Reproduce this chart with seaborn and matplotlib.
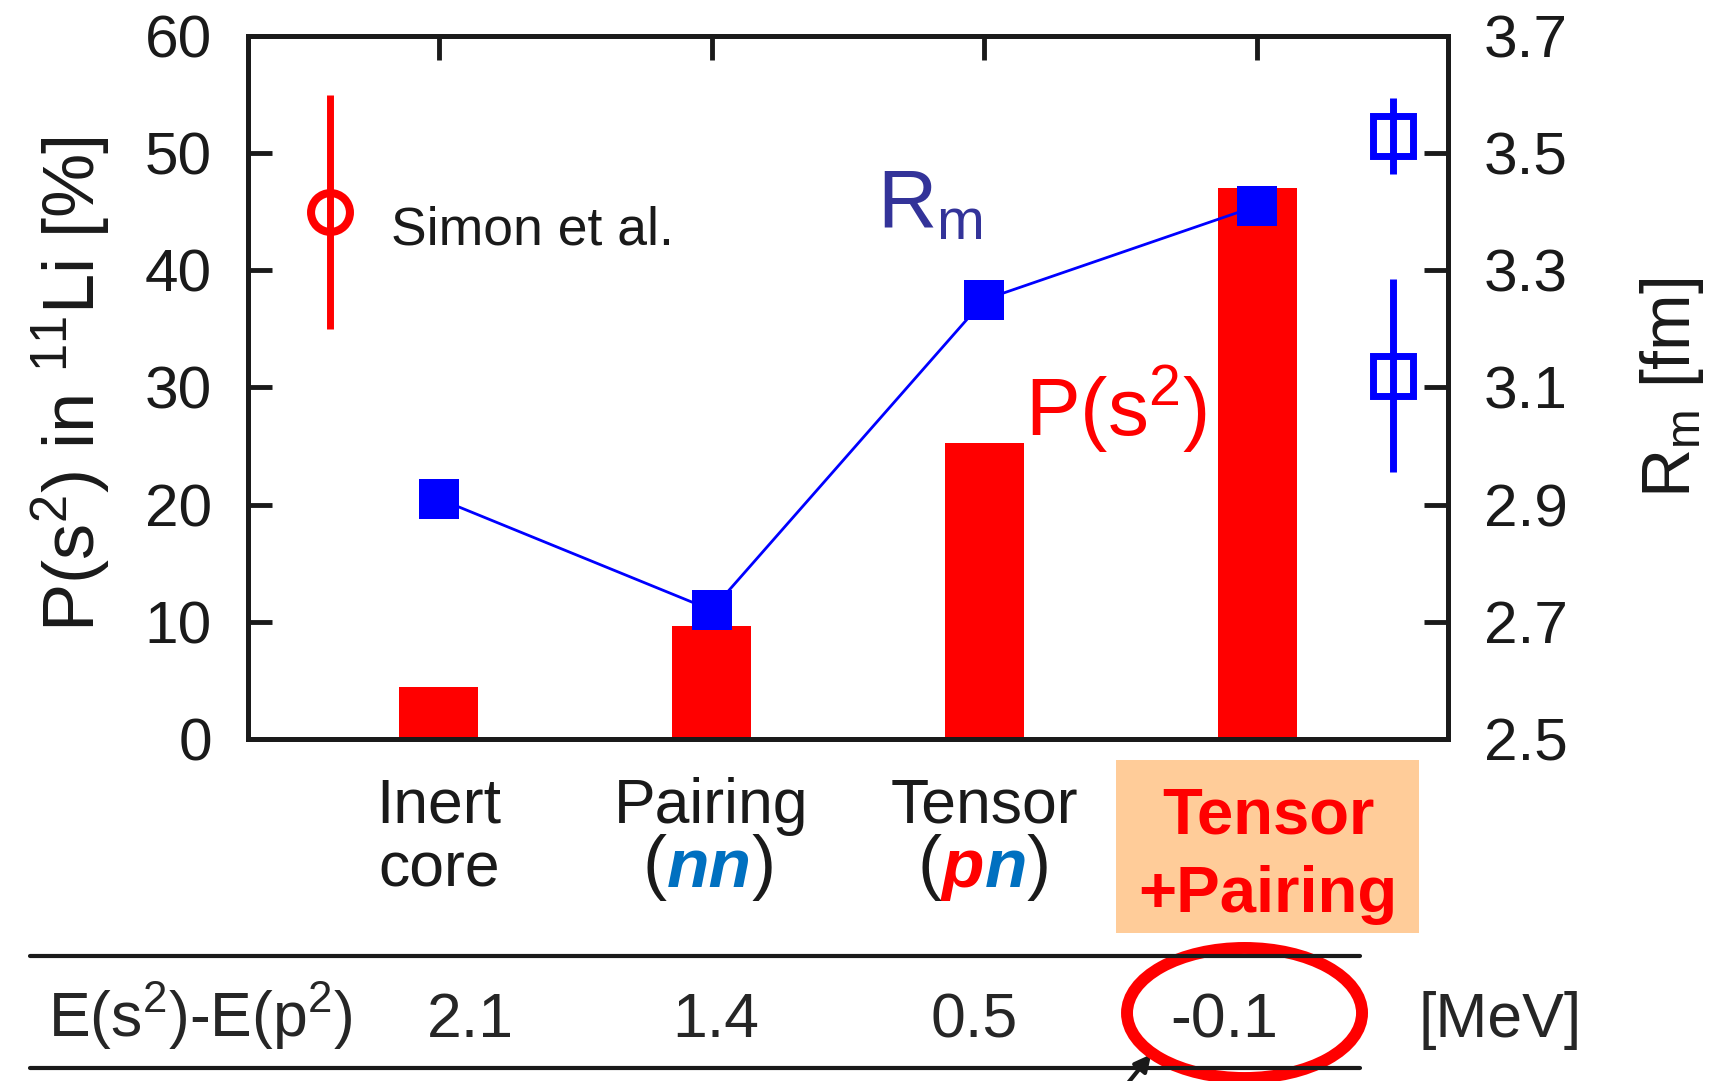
import pandas as pd
import matplotlib
matplotlib.use("Agg")
import matplotlib.pyplot as plt
import matplotlib.transforms as mtransforms
from matplotlib.lines import Line2D
from matplotlib.patches import Ellipse, Rectangle
import seaborn as sns

# model calculations
categories = ["Inert core", "Pairing (nn)", "Tensor (pn)", "Tensor+Pairing"]
p_s2 = [4.4, 9.6, 25.3, 47.0]          # P(s^2) in 11Li [%]
r_m = [2.91, 2.72, 3.25, 3.41]         # matter radius [fm]
e_gap = ["2.1", "1.4", "0.5", "-0.1"]  # E(s^2)-E(p^2) [MeV]

# experiments
simon_pos = [-0.4]
simon_p = [45.0]
simon_err = [10.0]
rm_exp_pos = [3.5, 3.5]
rm_exp = [3.53, 3.12]
rm_exp_err = [0.065, 0.165]

left_ticks = [0, 10, 20, 30, 40, 50, 60]
right_ticks = [2.5, 2.7, 2.9, 3.1, 3.3, 3.5, 3.7]

# table layout (figure fraction)
table_x = [0.2728, 0.4156, 0.5653, 0.7104]

sns.set_theme(style="ticks")
plt.rcParams["font.family"] = ["Liberation Sans", "DejaVu Sans"]
plt.rcParams["mathtext.fontset"] = "custom"
plt.rcParams["mathtext.rm"] = "Liberation Sans"
plt.rcParams["mathtext.it"] = "Liberation Sans:italic"
plt.rcParams["mathtext.bf"] = "Liberation Sans:bold"

RED = "#ff0000"
BLUE = "#0000ff"

fig = plt.figure(figsize=(17.23, 10.81), dpi=100)
ax = fig.add_axes([0.1439, 0.3164, 0.6965, 0.6503])

df = pd.DataFrame({"model": categories, "p": p_s2, "rm": r_m})
df["pos"] = df.index

sns.barplot(data=df, x="model", y="p", color=RED, saturation=1, width=0.29,
            linewidth=0, errorbar=None, ax=ax)
ax.errorbar(simon_pos, simon_p, yerr=simon_err, fmt="o", ms=28, mfc="none",
            mec=RED, mew=5.8, ecolor=RED, elinewidth=5, capsize=0, zorder=5)

ax2 = ax.twinx()
sns.lineplot(data=df, x="pos", y="rm", color=BLUE, lw=2, marker="s",
             markersize=29, markeredgewidth=0, legend=False, ax=ax2)
ax2.errorbar(rm_exp_pos, rm_exp, yerr=rm_exp_err, fmt="s", ms=29, mfc="none",
             mec=BLUE, mew=5, ecolor=BLUE, elinewidth=5, capsize=0)

ax.set_xlim(-0.7, 3.7)
ax.set_ylim(0, 60)
ax2.set_ylim(2.5, 3.7)
ax.set_yticks(left_ticks)
ax2.set_yticks(right_ticks)
ax2.set_yticklabels([f"{t:.1f}" for t in right_ticks])
ax.set_xticks(df["pos"])

ax.tick_params(axis="y", direction="in", length=17, width=3.5, labelsize=43.5,
               pad=26, left=True, right=False, color="k", labelcolor="k")
ax.tick_params(axis="x", direction="in", length=17, width=3.5, top=True,
               bottom=False, labelbottom=False, color="k")
ax2.tick_params(axis="y", direction="in", length=17, width=3.5, labelsize=43.5,
                pad=26, color="k", labelcolor="k")
for a in (ax, ax2):
    for s in a.spines.values():
        s.set_linewidth(3.5)
        s.set_color("k")

ax.set_xlabel("")
ax.set_ylabel(r"P(s$^2$) in $^{11}$Li [%]", fontsize=52, va="center", color="k")
ax.yaxis.set_label_coords(-0.148, 0.505)
ax2.set_xlabel("")
ax2.set_ylabel(r"R$_\mathrm{m}$ [fm]", fontsize=49, va="center", color="k")
ax2.yaxis.set_label_coords(1.187, 0.5)

# in-plot annotations
ax.text(-0.175, 43.4, "Simon et al.", fontsize=38.5, ha="left", va="center", color="k")
ax.text(1.605, 43.7, r"R$_\mathrm{m}$", fontsize=59, color="#333399", ha="left", va="baseline")
ax.text(2.15, 25.8, r"P(s$^2$)", fontsize=59, color=RED, ha="left", va="baseline")

# category labels under the axes
trans = mtransforms.blended_transform_factory(ax.transData, fig.transFigure)
y1, y2 = 0.2387, 0.1795
fs = 45
bi = dict(fontsize=50, weight="bold", style="italic")

ax.text(0, y1, "Inert", transform=trans, ha="center", va="baseline", fontsize=fs, color="k")
ax.text(0, y2, "core", transform=trans, ha="center", va="baseline", fontsize=fs, color="k")

ax.text(1, y1, "Pairing", transform=trans, ha="center", va="baseline", fontsize=fs, color="k")
nn = ax.text(0.99, y2, "nn", transform=trans, ha="center", va="baseline", color="#0070c0", **bi)
ax.annotate("(", xy=(0, 0), xycoords=nn, ha="right", va="bottom", fontsize=52, color="k")
ax.annotate(")", xy=(1, 0), xycoords=nn, ha="left", va="bottom", fontsize=52, color="k")

ax.text(2, y1, "Tensor", transform=trans, ha="center", va="baseline", fontsize=fs, color="k")
tp = ax.text(2, y2, "p", transform=trans, ha="right", va="baseline", color=RED, **bi)
tn = ax.text(2, y2, "n", transform=trans, ha="left", va="baseline", color="#0070c0", **bi)
ax.annotate("(", xy=(0, 0), xycoords=tp, ha="right", va="bottom", fontsize=52, color="k")
ax.annotate(")", xy=(1, 0), xycoords=tn, ha="left", va="bottom", fontsize=52, color="k")

fig.add_artist(Rectangle((0.6477, 0.1369), 0.1759, 0.16, transform=fig.transFigure,
                         facecolor="#ffcc99", edgecolor="none", zorder=-1))
ax.text(3.04, 0.2294, "Tensor", transform=trans, ha="center", va="baseline",
        fontsize=47, weight="bold", color=RED)
ax.text(3.04, 0.1563, "+Pairing", transform=trans, ha="center", va="baseline",
        fontsize=47, weight="bold", color=RED)

# energy table
for yl in (0.1156, 0.0120):
    fig.add_artist(Line2D([0.0174, 0.7893], [yl, yl], color="k", lw=3,
                          transform=fig.transFigure))
row_y = 0.0407
fig.text(0.028, row_y, r"E(s$^2$)-E(p$^2$)", fontsize=fs, ha="left", va="baseline")
for xv, val in zip(table_x, e_gap):
    fig.text(xv, row_y, val, fontsize=fs, ha="center", va="baseline")
fig.text(0.8706, row_y, "[MeV]", fontsize=fs, ha="center", va="baseline")

fig.add_artist(Ellipse((0.7223, 0.0629), 0.1364, 0.1203, transform=fig.transFigure,
                       fill=False, edgecolor=RED, lw=8.6))
ax.annotate("", xy=(0.6692, 0.0268), xytext=(0.649, -0.013), xycoords="figure fraction",
            textcoords="figure fraction",
            arrowprops=dict(arrowstyle="-|>", lw=3, color="k", mutation_scale=25))

fig.savefig("out.png", dpi=100)
